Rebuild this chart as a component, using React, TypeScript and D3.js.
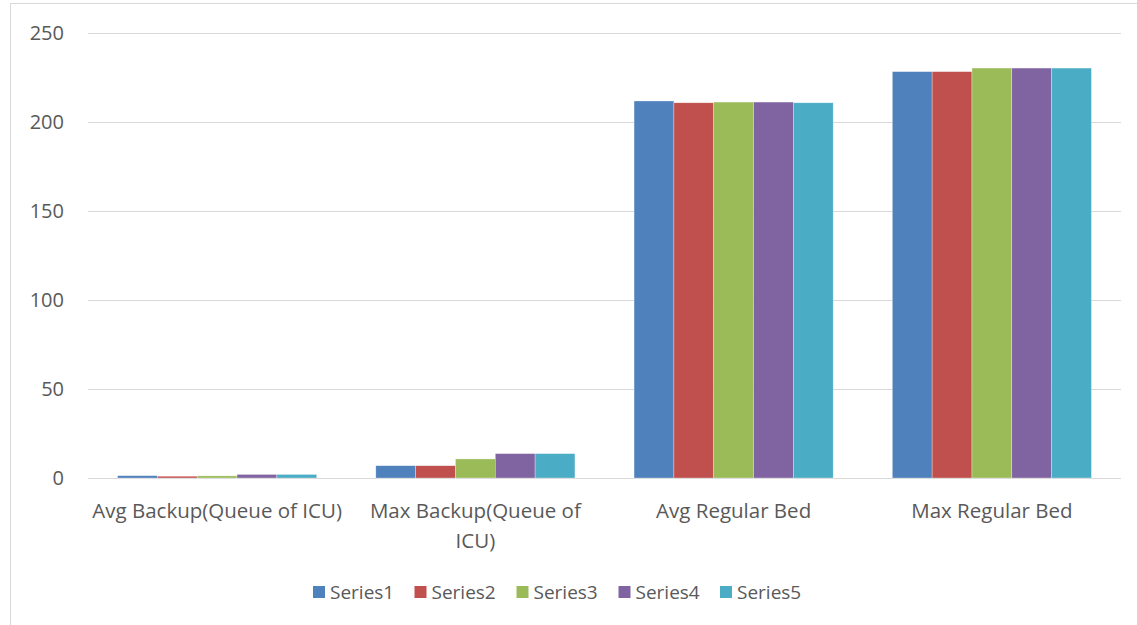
import React from "react";
import * as d3 from "d3";

const categories = ["Avg Backup(Queue of ICU)", "Max Backup(Queue of ICU)", "Avg Regular Bed", "Max Regular Bed"];
const categoryLines = [["Avg Backup(Queue of ICU)"], ["Max Backup(Queue of", "ICU)"], ["Avg Regular Bed"], ["Max Regular Bed"]];
const seriesNames = ["Series1", "Series2", "Series3", "Series4", "Series5"];
const series1 = [1.3, 6.9, 211.8, 228.3];
const series2 = [1.0, 6.9, 210.8, 228.3];
const series3 = [1.2, 10.7, 211.2, 230.3];
const series4 = [2.0, 13.7, 211.2, 230.3];
const series5 = [2.0, 13.7, 210.8, 230.3];
const seriesValues = [series1, series2, series3, series4, series5];
const colors = ["#4F81BD", "#C0504D", "#9BBB59", "#8064A2", "#4BACC6"];
const yTicks = [0, 50, 100, 150, 200, 250];

const W = 1137, H = 625;
const plotL = 88, plotR = 1121, plotT = 33, plotB = 478;
const FONT = "'Open Sans', 'Noto Sans', sans-serif";
const TEXT = "#595959";

export default function App() {
  const x = d3.scaleBand<string>().domain(categories).range([plotL, plotR]).paddingInner(0.229).paddingOuter(0.1145);
  const xs = d3.scaleBand<string>().domain(seriesNames).range([0, x.bandwidth()]).padding(0);
  const y = d3.scaleLinear().domain([0, 250]).range([plotB, plotT]);
  const legendX = [313, 414.5, 516.5, 618.5, 720];

  return (
    <svg width={W} height={H} style={{ position: "absolute", left: 0, top: 0, background: "#fff" }} fontFamily={FONT}>
      <rect x={0} y={0} width={W} height={H} fill="#fff" />
      <line x1={10.5} y1={3} x2={10.5} y2={H} stroke="#d9d9d9" strokeWidth={1} />
      <line x1={10} y1={3.5} x2={W} y2={3.5} stroke="#d9d9d9" strokeWidth={1} />
      {yTicks.map((t) => (
        <g key={t}>
          <line x1={plotL} x2={plotR} y1={Math.round(y(t)) + 0.5} y2={Math.round(y(t)) + 0.5} stroke="#d9d9d9" strokeWidth={1} />
          <text x={64} y={y(t) + 7} textAnchor="end" fontSize={20} fill={TEXT}>{t}</text>
        </g>
      ))}
      {seriesValues.map((vals, si) => (
        <g key={si}>
          {categories.map((c, ci) => (
            <rect key={c} x={(x(c) as number) + (xs(seriesNames[si]) as number)} y={y(vals[ci])}
              width={xs.bandwidth()} height={y(0) - y(vals[ci])} fill={colors[si]}
              stroke="#ffffff" strokeOpacity={0.5} strokeWidth={0.6} />
          ))}
        </g>
      ))}
      {categories.map((c, ci) => (
        <text key={c} textAnchor="middle" fontSize={20.5} fill={TEXT}>
          {categoryLines[ci].map((ln, li) => (
            <tspan key={li} x={(x(c) as number) + x.bandwidth() / 2} y={518 + li * 30}>{ln}</tspan>
          ))}
        </text>
      ))}
      {seriesNames.map((s, i) => (
        <g key={s}>
          <rect x={legendX[i]} y={586} width={12} height={12} fill={colors[i]} />
          <text x={legendX[i] + 17} y={599} fontSize={19} fill={TEXT}>{s}</text>
        </g>
      ))}
    </svg>
  );
}
